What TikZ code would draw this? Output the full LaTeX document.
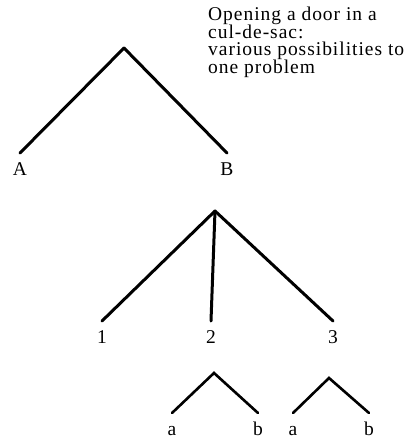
\documentclass[tikz,border=0pt]{standalone}
\usepackage{fontspec}
\setmainfont{Liberation Serif}[LetterSpace=5]
\usetikzlibrary{positioning}
\setlength{\lineskiplimit}{-100pt}

\begin{document}
\begin{tikzpicture}[
  x=1pt, y=-1pt,
  font=\fontsize{19.5}{17.6}\selectfont,
  ramo/.style={draw=black, line width=3pt, line cap=round},
  rametto/.style={ramo, line width=2.6pt},
  foglia/.style={anchor=north, inner sep=0pt, outer sep=9pt,
                 text height=13pt, text depth=0pt},
  didascalia/.style={anchor=north west, inner sep=0pt, align=left}
]
\useasboundingbox (0,0) rectangle (419,439);

% albero superiore
\coordinate (R) at (124,48);
\node[foglia] (A) at (20,153)  {A};
\node[foglia] (B) at (227,153) {B};
\foreach \f in {A,B}
  \draw[ramo] (R) -- (\f.north);

\node[didascalia] (testo) at (208,7)
  {Opening a door in a\\ cul-de-sac:\\ various possibilities to\\ one problem};

% albero centrale
\coordinate (S) at (215,211);
\node[foglia] (n1) at (102,321) {1};
\node[foglia] (n2) at (211,321) {2};
\node[foglia] (n3) at (333,321) {3};
\foreach \f in {1,2,3}
  \draw[ramo] (S) -- (n\f.north);

% sotto-alberi
\foreach \c/\x/\y/\l/\r in {2/214/373/172/258, 3/329/378/293/369} {
  \coordinate (T\c) at (\x,\y);
  \node[foglia] (a\c) at (\l,413) {a};
  \node[foglia] (b\c) at (\r,413) {b};
  \draw[rametto] (a\c.north) -- (T\c) -- (b\c.north);
}

\end{tikzpicture}
\end{document}
